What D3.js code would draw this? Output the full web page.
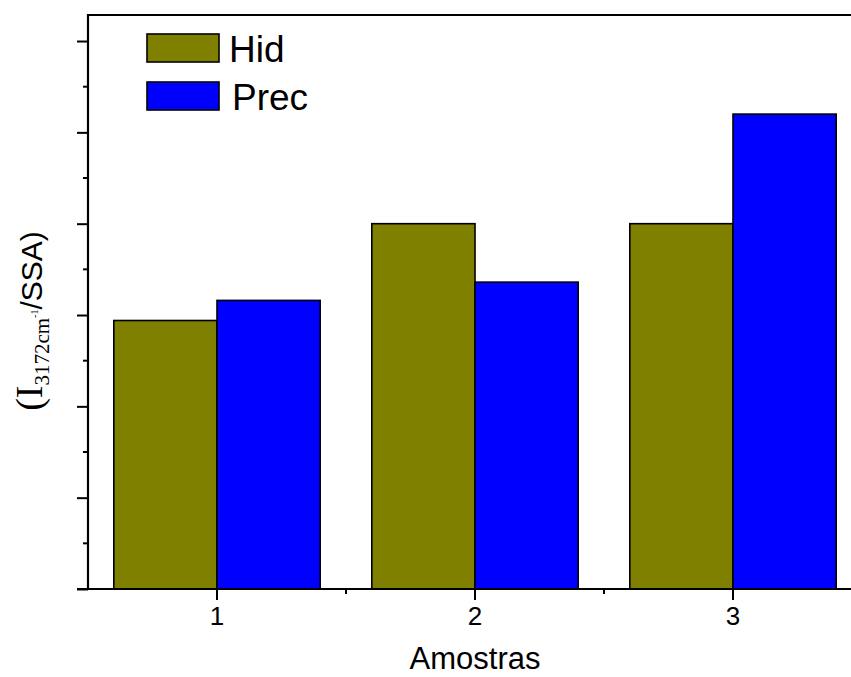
<!DOCTYPE html>
<html>
<head>
<meta charset="utf-8">
<script src="https://cdn.jsdelivr.net/npm/d3@7"></script>
<style>
  html, body { margin: 0; padding: 0; background: #fff; }
  svg { display: block; }
</style>
</head>
<body>
<svg id="chart" width="851" height="677"></svg>
<script>
// Sample groups and the two series plotted for each
const categories = ["1", "2", "3"];
const seriesNames = ["Hid", "Prec"];
const hidValues = [2.94, 4.0, 4.0];
const precValues = [3.16, 3.36, 5.2];
const seriesColors = ["#808000", "#0000FF"];
const yMajorTicks = [0, 1, 2, 3, 4, 5, 6];
const yMinorTicks = [0.5, 1.5, 2.5, 3.5, 4.5, 5.5];

const svg = d3.select("#chart");
const W = 851, H = 677;
const plot = { left: 88, right: 862, top: 15, bottom: 589 };

const x = d3.scaleBand()
  .domain(categories)
  .range([plot.left, plot.right])
  .paddingInner(0.2)
  .paddingOuter(0.1);

const xs = d3.scaleBand()
  .domain(seriesNames)
  .range([0, x.bandwidth()]);

const y = d3.scaleLinear()
  .domain([0, 6.285])
  .range([plot.bottom, plot.top]);

const rows = categories.map((c, i) => ({
  cat: c,
  vals: [
    { name: seriesNames[0], v: hidValues[i], color: seriesColors[0] },
    { name: seriesNames[1], v: precValues[i], color: seriesColors[1] }
  ]
}));

const sansFont = "Arial, 'Liberation Sans', Helvetica, sans-serif";
const serifFont = "'Times New Roman', 'Liberation Serif', Times, serif";

// Bars
const groups = svg.append("g")
  .selectAll("g")
  .data(rows)
  .join("g")
  .attr("transform", d => `translate(${x(d.cat)},0)`);

groups.selectAll("rect")
  .data(d => d.vals)
  .join("rect")
  .attr("x", d => xs(d.name))
  .attr("width", xs.bandwidth())
  .attr("y", d => y(d.v))
  .attr("height", d => y(0) - y(d.v))
  .attr("fill", d => d.color)
  .attr("stroke", "#000")
  .attr("stroke-width", 1.6);

// Frame: top line
svg.append("line")
  .attr("x1", plot.left).attr("x2", W + 20)
  .attr("y1", plot.top).attr("y2", plot.top)
  .attr("stroke", "#000").attr("stroke-width", 2);

// Left axis with major ticks (no labels)
const yAxis = d3.axisLeft(y)
  .tickValues(yMajorTicks)
  .tickSize(11)
  .tickFormat("");
const gy = svg.append("g")
  .attr("transform", `translate(${plot.left},0)`)
  .call(yAxis);
gy.select(".domain").remove();
gy.selectAll(".tick line").attr("stroke", "#000").attr("stroke-width", 2);
svg.append("line")
  .attr("x1", plot.left).attr("x2", plot.left)
  .attr("y1", plot.top - 1).attr("y2", plot.bottom + 1)
  .attr("stroke", "#000").attr("stroke-width", 2.2);

// Left axis minor ticks
svg.append("g")
  .selectAll("line")
  .data(yMinorTicks)
  .join("line")
  .attr("x1", plot.left - 5).attr("x2", plot.left)
  .attr("y1", d => y(d)).attr("y2", d => y(d))
  .attr("stroke", "#000").attr("stroke-width", 2);

// Bottom axis: tick marks from the axis generator, labels drawn below
const xAxis = d3.axisBottom(x).tickSize(11).tickFormat("");
const gx = svg.append("g")
  .attr("transform", `translate(0,${plot.bottom})`)
  .call(xAxis);
gx.select(".domain").remove();
gx.selectAll(".tick line").attr("stroke", "#000").attr("stroke-width", 2);

svg.append("g")
  .selectAll("text")
  .data(categories)
  .join("text")
  .attr("x", d => x(d) + x.bandwidth() / 2)
  .attr("y", 625)
  .attr("text-anchor", "middle")
  .attr("font-family", sansFont)
  .attr("font-size", 26)
  .attr("fill", "#000")
  .text(d => d);

svg.append("line")
  .attr("x1", plot.left - 11).attr("x2", W + 20)
  .attr("y1", plot.bottom).attr("y2", plot.bottom)
  .attr("stroke", "#000").attr("stroke-width", 2.2);

// Bottom axis minor ticks between groups
const step = x.step();
const xMinor = categories.slice(0, -1).map(c => x(c) + x.bandwidth() / 2 + step / 2);
svg.append("g")
  .selectAll("line")
  .data(xMinor)
  .join("line")
  .attr("x1", d => d).attr("x2", d => d)
  .attr("y1", plot.bottom).attr("y2", plot.bottom + 5)
  .attr("stroke", "#000").attr("stroke-width", 2);

// Axis titles
svg.append("text")
  .attr("x", x(categories[1]) + x.bandwidth() / 2)
  .attr("y", 669)
  .attr("text-anchor", "middle")
  .attr("font-family", sansFont)
  .attr("font-size", 31)
  .attr("fill", "#000")
  .text("Amostras");

const yt = svg.append("text")
  .attr("transform", "translate(42,321) rotate(-90)")
  .attr("text-anchor", "middle")
  .attr("fill", "#000");
yt.append("tspan").attr("font-family", serifFont).attr("font-size", 38).text("(I");
yt.append("tspan").attr("font-family", serifFont).attr("font-size", 21).attr("dy", 7).text("3172cm");
yt.append("tspan").attr("font-family", serifFont).attr("font-size", 10).attr("dy", -11).text("-1");
yt.append("tspan").attr("font-family", sansFont).attr("font-size", 30).attr("dy", 4).text("/SSA)");

// Legend
const legend = svg.append("g");
seriesNames.forEach((name, i) => {
  const ly = 34 + i * 48;
  legend.append("rect")
    .attr("x", 147).attr("y", ly)
    .attr("width", 72).attr("height", 28)
    .attr("fill", seriesColors[i])
    .attr("stroke", "#000").attr("stroke-width", 1.6);
  legend.append("text")
    .attr("x", 229 + i * 3).attr("y", ly + 28)
    .attr("font-family", sansFont)
    .attr("font-size", 37)
    .attr("fill", "#000")
    .text(name);
});
</script>
</body>
</html>
